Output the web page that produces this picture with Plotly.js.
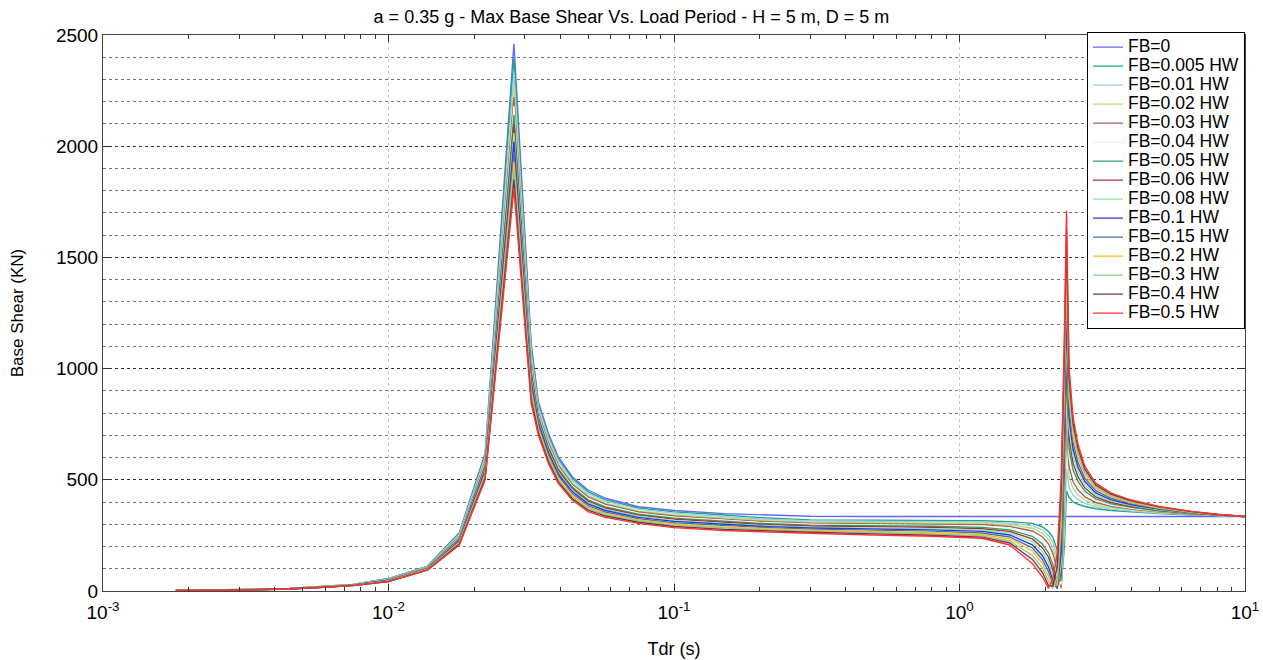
<!DOCTYPE html>
<html><head><meta charset="utf-8">
<script src="https://cdn.plot.ly/plotly-3.0.1.min.js"></script>
<style>html,body{margin:0;padding:0;background:#fff;}#chart{width:1263px;height:660px;}</style>
</head><body><div id="chart"></div>
<script>
const period = [0.0018,0.003,0.0045,0.006,0.0075,0.01,0.0137,0.0177,0.0218,0.0275,0.0316,0.0335,0.0363,0.0393,0.044,0.05,0.0575,0.075,0.1,0.15,0.2,0.3,0.5,0.8,1.2,1.5,1.8,1.95,2.05,2.12,2.2,2.27,2.33,2.37,2.42,2.5,2.6,2.75,3.0,3.4,4.0,5.0,6.5,8.0,10.0];

const seriesNames = ["FB=0","FB=0.005 HW","FB=0.01 HW","FB=0.02 HW","FB=0.03 HW","FB=0.04 HW","FB=0.05 HW","FB=0.06 HW","FB=0.08 HW","FB=0.1 HW","FB=0.15 HW","FB=0.2 HW","FB=0.3 HW","FB=0.4 HW","FB=0.5 HW"];
const seriesColors = ["#6666ff","#1aaa80","#99ccee","#b8e07a","#a86060","#f2f2f2","#33a060","#a03838","#88e8a8","#3333dd","#4a70b0","#ffbb22","#88cc88","#703848","#ff3030"];

const fb0    = [2,5,11,20,30,56,112,262,620, 2460, 1114,850,709,604,514,454,417,379,362,348,342,336, 335,335,335,335,335,335,335,335,335,335,335,335, 335,335,335,335,335,335,335,335,335,335,335];
const fb0005 = [2,5,11,20,30,55,111,258,610, 2400, 1092,838,698,594,506,446,410,373,356,342,330,320, 319,318,316,312,304,289,267,244,184,20,200,450, 420,400,390,380,370,362,355,348,342,338,335];
const fb001  = [2,5,11,19,29,54,109,254,602, 2330, 1073,827,689,586,498,439,404,368,350,336,324,315, 314,313,310,305,293,275,250,222,150,12,260,550, 466,430,412,394,379,368,359,351,343,339,335];
const fb002  = [2,5,11,19,28,52,108,248,590, 2270, 1046,812,675,574,488,430,396,360,343,329,318,309, 308,307,304,298,282,260,232,198,118,10,330,700, 513,461,433,409,388,374,364,353,345,339,335];
const fb003  = [2,5,10,19,28,52,106,244,582, 2220, 1028,802,666,566,480,423,390,355,337,323,313,305, 303,301,298,290,270,244,212,172,86,16,400,800, 559,491,455,423,398,381,368,356,346,340,335];
const fb004  = [2,5,10,18,28,51,105,241,573, 2180, 1009,791,656,557,473,416,384,350,332,318,308,300, 298,296,292,283,258,228,192,148,60,30,470,900, 600,518,474,436,406,386,372,358,347,340,335];
const fb005  = [2,5,10,18,27,50,104,237,566, 2140, 992,782,648,550,467,410,378,345,327,314,304,296, 294,291,286,275,246,212,172,122,38,50,540,1000, 640,544,493,448,414,392,376,360,348,341,335];
const fb006  = [2,4,10,18,27,49,103,234,559, 2100, 976,773,640,543,460,404,373,341,323,309,300,292, 289,286,280,268,234,195,152,98,22,80,610,1080, 687,575,514,463,423,398,380,363,349,341,335];
const fb008  = [2,4,10,18,27,48,102,230,550, 2060, 957,763,631,534,453,398,367,336,317,304,295,287, 284,280,274,260,222,178,130,74,12,120,680,1160, 733,605,536,477,432,404,384,365,351,342,335];
const fb01   = [2,4,10,17,26,47,100,227,543, 2020, 941,754,623,527,447,392,362,331,313,299,291,283, 279,275,268,252,208,160,108,52,10,170,760,1250, 780,636,557,492,441,410,388,368,352,342,335];
const fb015  = [2,4,10,17,26,46,99,222,534, 1970, 920,742,612,518,438,384,355,325,307,293,286,278, 274,269,261,243,194,142,88,34,14,230,840,1350, 826,666,579,506,451,417,393,370,353,343,335];
const fb02   = [2,4,9,17,25,45,98,219,525, 1930, 901,731,602,509,431,377,349,320,301,288,281,273, 268,263,254,234,180,124,66,20,30,300,920,1420, 872,696,601,520,460,423,397,373,354,343,335];
const fb03   = [2,4,9,17,25,44,97,215,517, 1890, 882,721,593,501,424,371,343,315,296,283,276,268, 263,257,248,225,160,104,45,12,60,380,1000,1530, 913,723,620,533,468,428,401,375,356,344,335];
const fb04   = [2,4,9,16,24,43,95,211,508, 1850, 863,710,583,492,416,364,337,309,290,277,271,264, 257,251,242,216,142,84,25,22,110,440,1080,1620, 959,753,641,547,477,435,405,378,357,344,335];
const fb05   = [2,4,9,16,24,42,94,207,500, 1810, 844,700,574,484,409,357,331,304,285,272,266,260, 252,246,237,207,124,64,13,50,170,500,1150,1710, 1000,780,660,560,485,440,409,380,358,345,335];

const seriesValues = [fb0,fb0005,fb001,fb002,fb003,fb004,fb005,fb006,fb008,fb01,fb015,fb02,fb03,fb04,fb05];

const xMajorTicks = [0.001,0.01,0.1,1,10];
const xMajorLabels = ["10<sup>-3</sup>","10<sup>-2</sup>","10<sup>-1</sup>","10<sup>0</sup>","10<sup>1</sup>"];
const xMinorTicks = [];
[0.001,0.01,0.1,1].forEach(d => { for (let m = 2; m <= 9; m++) xMinorTicks.push(d*m); });

const traces = seriesValues.map((vals, i) => ({
  x: period, y: vals, type: 'scatter', mode: 'lines',
  name: '<span style="font-size:17.5px">' + seriesNames[i] + '</span>',
  line: {color: seriesColors[i], width: 1.4}
}));

const FONT = 'Arial, "Liberation Sans", sans-serif';
const layout = {
  width: 1263, height: 660,
  margin: {l: 103, r: 18, t: 35, b: 69},
  paper_bgcolor: '#fff', plot_bgcolor: '#fff',
  font: {family: FONT, color: '#000', size: 17},
  title: {text: 'a = 0.35 g - Max Base Shear Vs. Load Period - H = 5 m, D = 5 m', x: 0.5, xanchor: 'center', y: 0.974, yanchor: 'middle', font: {family: FONT, size: 18, color: '#000'}},
  xaxis: {
    type: 'log', range: [-3, 1], tickmode: 'array', tickvals: xMajorTicks, ticktext: xMajorLabels,
    ticks: 'inside', ticklen: 7, tickcolor: '#333', showline: true, linecolor: '#444', linewidth: 1, mirror: 'ticks',
    showgrid: true, gridcolor: '#c8c8c8', griddash: 'dot', gridwidth: 1, zeroline: false,
    tickfont: {family: FONT, size: 19, color: '#000'}, ticklabelstandoff: 4,
    minor: {tickmode: 'array', tickvals: xMinorTicks, ticks: 'inside', ticklen: 4, tickcolor: '#333', showgrid: false},
    title: {text: 'Tdr (s)', font: {family: FONT, size: 18, color: '#000'}, standoff: 20}
  },
  yaxis: {
    range: [0, 2500], tickmode: 'linear', tick0: 0, dtick: 500,
    ticks: 'inside', ticklen: 7, tickcolor: '#333', showline: true, linecolor: '#444', linewidth: 1, mirror: 'ticks',
    showgrid: true, gridcolor: '#333', griddash: 'dot', gridwidth: 1, zeroline: false,
    tickfont: {family: FONT, size: 19, color: '#000'},
    minor: {tickmode: 'linear', tick0: 0, dtick: 100, showgrid: true, gridcolor: '#777', griddash: 'dot', gridwidth: 1, ticks: ''},
    title: {text: 'Base Shear (KN)', font: {family: FONT, size: 17, color: '#000'}, standoff: 27}
  },
  showlegend: true,
  legend: {x: 1, xanchor: 'right', y: 1.006, yanchor: 'top', bgcolor: '#fff', bordercolor: '#000', borderwidth: 1,
    font: {family: FONT, size: 11.6, color: '#000'}, tracegroupgap: 0, itemwidth: 30}
};

Plotly.newPlot('chart', traces, layout, {displayModeBar: false, staticPlot: true});
</script></body></html>
